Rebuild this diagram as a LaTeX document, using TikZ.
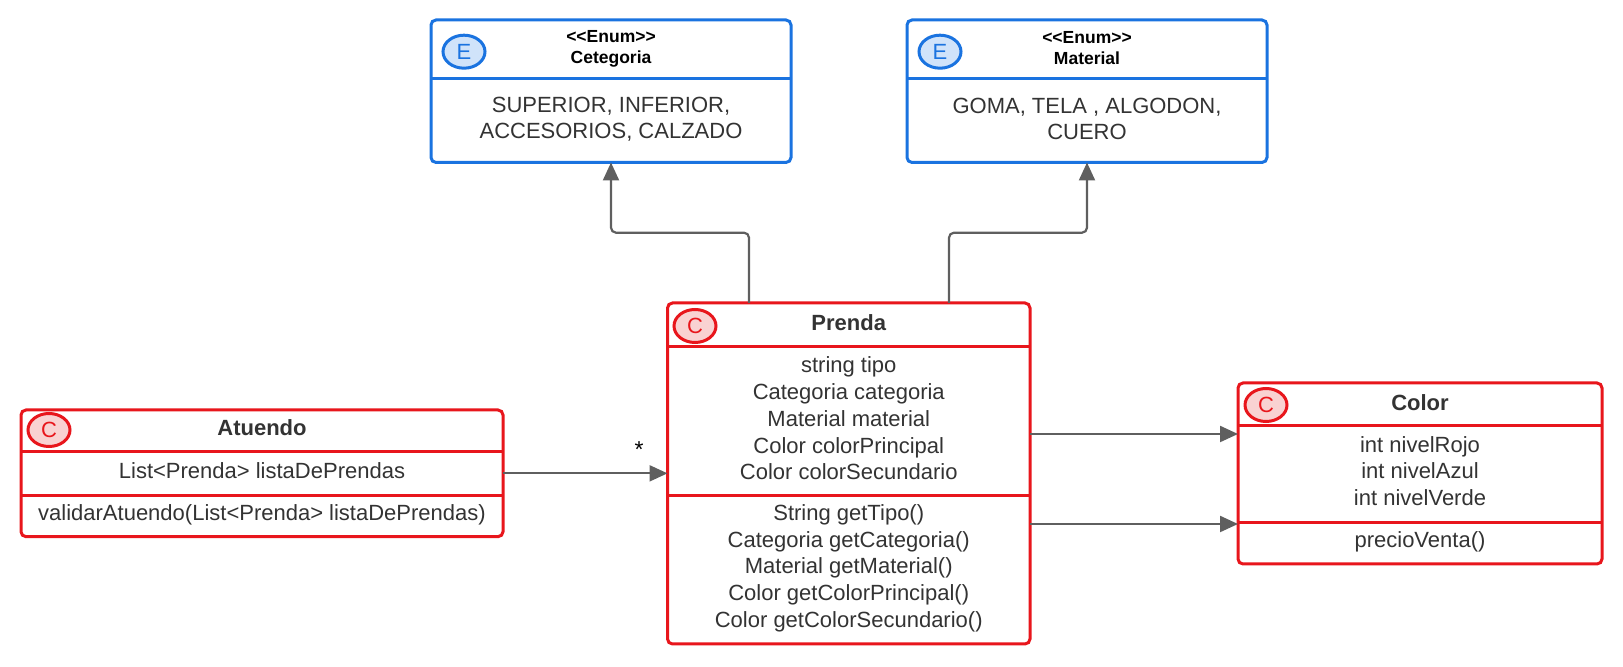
\documentclass[tikz,border=0pt]{standalone}
\usepackage{fontspec}
\setmainfont{Liberation Sans}
\usetikzlibrary{arrows.meta,calc,shapes.geometric}
\definecolor{ured}{HTML}{E8161C}
\definecolor{ublue}{HTML}{1A73E0}
\definecolor{redfill}{HTML}{F9D2D2}
\definecolor{bluefill}{HTML}{D0E3FA}
\definecolor{txtgray}{HTML}{333333}
\definecolor{agray}{HTML}{5F5F5F}
\begin{document}
\begin{tikzpicture}[x=0.5pt,y=-0.5pt,
  box/.style={draw, line width=1.5pt, rounded corners=2.5pt, inner sep=0pt, outer sep=0pt, fill=white},
  redbox/.style={box, draw=ured},
  bluebox/.style={box, draw=ublue},
  redline/.style={draw=ured, line width=1.5pt},
  blueline/.style={draw=ublue, line width=1.5pt},
  txt/.style={font=\fontsize{11}{13.35}\selectfont, text=txtgray, align=center, inner sep=0pt},
  enumtxt/.style={font=\fontsize{11}{12.9}\selectfont, text=txtgray, align=center, inner sep=0pt},
  ttl/.style={font=\fontsize{11}{13}\selectfont\bfseries, text=txtgray, inner sep=0pt},
  enumhd/.style={font=\fontsize{8.75}{10.5}\selectfont\bfseries, text=black, align=center, inner sep=0pt},
  badge/.style={ellipse, line width=1.5pt, minimum width=21pt, minimum height=16.5pt, inner sep=0pt, font=\fontsize{11}{12}\selectfont},
  rbadge/.style={badge, draw=ured, fill=redfill, text=ured},
  bbadge/.style={badge, draw=ublue, fill=bluefill, text=ublue},
  conn/.style={draw=agray, line width=1.1pt, rounded corners=2.5pt, -{Triangle[length=9pt,width=8pt]}},
  mult/.style={font=\fontsize{11.5}{13}\selectfont, text=black, inner sep=0pt}
]
\useasboundingbox (0,0) rectangle (1623,667);

% ---- Categoria enum ----
\node[bluebox, minimum width=180pt, minimum height=71.25pt] (cat) at (611,91.25) {};
\draw[blueline] (cat.north west) ++(0,59) -- ++(360,0);
\node[bbadge] (catb) at (464,51.7) {E};
\node[enumhd] (cath) at (611,48.5) {<\kern0pt<Enum>\kern0pt>\\Cetegoria};
\node[enumtxt] (catv) at (611,119) {SUPERIOR, INFERIOR,\\ACCESORIOS, CALZADO};

% ---- Material enum ----
\node[bluebox, minimum width=180pt, minimum height=71.25pt] (mat) at (1087,91.25) {};
\draw[blueline] (mat.north west) ++(0,59) -- ++(360,0);
\node[bbadge] (matb) at (940,51.7) {E};
\node[enumhd] (math) at (1087,48.5) {<\kern0pt<Enum>\kern0pt>\\Material};
\node[enumtxt] (matv) at (1087,119) {GOMA, TELA , ALGODON,\\CUERO};

% ---- Prenda ----
\node[redbox, minimum width=181.25pt, minimum height=170.5pt] (prenda) at (848.75,473.5) {};
\draw[redline] (prenda.north west) ++(0,43.7) -- ++(362.5,0);
\draw[redline] (prenda.north west) ++(0,192.7) -- ++(362.5,0);
\node[rbadge] (prb) at (695,326) {C};
\node[ttl] (prt) at (848.75,323) {Prenda};
\node[txt] (pra) at (848.75,418.5) {string tipo\\Categoria categoria\\Material material\\Color colorPrincipal\\Color colorSecundario};
\node[txt] (prm) at (848.75,568.3) {String getTipo()\\Categoria getCategoria()\\Material getMaterial()\\Color getColorPrincipal()\\Color getColorSecundario()};

% ---- Atuendo ----
\node[redbox, minimum width=241pt, minimum height=63.35pt] (atuendo) at (262,473.35) {};
\draw[redline] (atuendo.north west) ++(0,42) -- ++(482,0);
\draw[redline] (atuendo.north west) ++(0,85.7) -- ++(482,0);
\node[rbadge] (atb) at (49,430) {C};
\node[ttl] (att) at (262,428) {Atuendo};
\node[txt] (ata) at (262,471) {List<Prenda> listaDePrendas};
\node[txt] (atm) at (262,515) {validarAtuendo(List<Prenda> listaDePrendas)};

% ---- Color ----
\node[redbox, minimum width=182pt, minimum height=90.5pt] (color) at (1420,473.5) {};
\draw[redline] (color.north west) ++(0,43) -- ++(364,0);
\draw[redline] (color.north west) ++(0,140) -- ++(364,0);
\node[rbadge] (cob) at (1266,405) {C};
\node[ttl] (cot) at (1420,403) {Color};
\node[txt] (coa) at (1420,471) {int nivelRojo\\int nivelAzul\\int nivelVerde};
\node[txt] (com) at (1420,542) {precioVenta()};

% ---- connectors ----
\draw[conn] ([xshift=-49.875pt]prenda.north) -- ++(0,-70.3) -| (cat.south);
\draw[conn] ([xshift=50.125pt]prenda.north) -- ++(0,-70.3) -| (mat.south);
\draw[conn] (atuendo.east) -- node[mult, pos=0.827, yshift=12pt] (star) {*} (atuendo.east -| prenda.west);
\draw[conn] ([yshift=19.75pt]prenda.east) -- ([yshift=19.75pt]prenda.east -| color.west);
\draw[conn] ([yshift=-25.25pt]prenda.east) -- ([yshift=-25.25pt]prenda.east -| color.west);
\end{tikzpicture}
\end{document}
